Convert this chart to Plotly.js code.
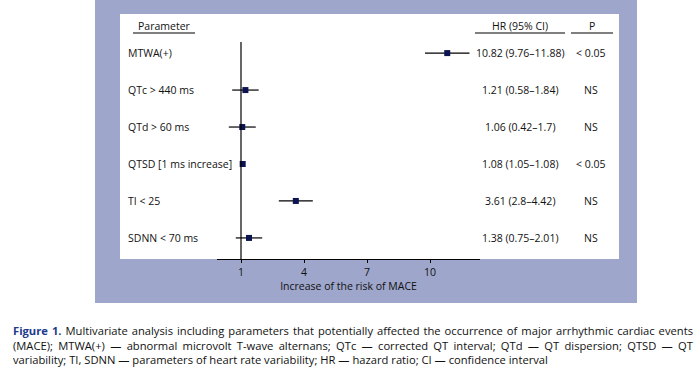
<!DOCTYPE html>
<html>
<head>
<meta charset="utf-8">
<script src="https://cdn.plot.ly/plotly-3.0.1.min.js"></script>
<style>html,body{margin:0;padding:0;background:#fff;}#chart{width:699px;height:376px;}</style>
</head>
<body>
<div id="chart"></div>
<script>
// ---- data ----
const parameters = ["MTWA(+)", "QTc > 440 ms", "QTd > 60 ms", "QTSD [1 ms increase]", "TI < 25", "SDNN < 70 ms"];
const hr = [10.82, 1.21, 1.06, 1.08, 3.61, 1.38];
const ciLow = [9.76, 0.58, 0.42, 1.05, 2.8, 0.75];
const ciHigh = [11.88, 1.84, 1.7, 1.08, 4.42, 2.01];
const hrLabels = ["10.82 (9.76–11.88)", "1.21 (0.58–1.84)", "1.06 (0.42–1.7)", "1.08 (1.05–1.08)", "3.61 (2.8–4.42)", "1.38 (0.75–2.01)"];
const pLabels = ["< 0.05", "NS", "NS", "< 0.05", "NS", "NS"];
const tickValues = [1, 4, 7, 10];
const referenceHR = 1;
const xTitle = "Increase of the risk of MACE";
const headers = ["Parameter", "HR (95% CI)", "P"];
const captionBold = "Figure 1.";
const captionLines = [
  " Multivariate analysis including parameters that potentially affected the occurrence of major arrhythmic cardiac events",
  "(MACE); MTWA(+) — abnormal microvolt T-wave alternans; QTc — corrected QT interval; QTd — QT dispersion; QTSD — QT",
  "variability; TI, SDNN — parameters of heart rate variability; HR — hazard ratio; CI — confidence interval"
];

// ---- layout geometry (pixels) ----
const W = 699, H = 376;
const L = 217, R = 480, T = 42, B = 259;
const px = x => (x - L) / (R - L);
const py = y => (B - y) / (B - T);
const FONT = "Open Sans, Noto Sans, sans-serif";
const CAPFONT = "Open Sans";
const CAPSIZE = 11.2;
const rows = parameters.map((_, i) => i + 1);

// text measurement for justified caption lines
const cv = document.createElement("canvas").getContext("2d");
function tw(s, weight) { cv.font = weight + " " + CAPSIZE + "px '" + CAPFONT + "'"; return cv.measureText(s).width; }
const capLeft = 12, capRight = 692;

const trace = {
  type: "scatter", mode: "markers",
  x: hr, y: rows,
  marker: {symbol: "square", size: 6, color: "#0b1450"},
  error_x: {
    type: "data", symmetric: false,
    array: hr.map((v, i) => ciHigh[i] - v),
    arrayminus: hr.map((v, i) => v - ciLow[i]),
    width: 0, thickness: 1.2, color: "#000"
  },
  hoverinfo: "skip", showlegend: false
};

const ann = [];
const tf = {family: FONT, size: 10.5, color: "#111"};
parameters.forEach((p, i) => {
  ann.push({xref: "paper", yref: "y", x: px(126), y: rows[i], text: p, showarrow: false, xanchor: "left", yanchor: "middle", font: tf});
  ann.push({xref: "paper", yref: "y", x: px(520), y: rows[i], text: hrLabels[i], showarrow: false, xanchor: "center", yanchor: "middle", font: tf});
  ann.push({xref: "paper", yref: "y", x: px(591), y: rows[i], text: pLabels[i], showarrow: false, xanchor: "center", yanchor: "middle", font: tf});
});
ann.push({xref: "paper", yref: "paper", x: px(164), y: py(26), text: headers[0], showarrow: false, xanchor: "center", yanchor: "middle", font: tf});
ann.push({xref: "paper", yref: "paper", x: px(520), y: py(26), text: headers[1], showarrow: false, xanchor: "center", yanchor: "middle", font: tf});
ann.push({xref: "paper", yref: "paper", x: px(592), y: py(26), text: headers[2], showarrow: false, xanchor: "center", yanchor: "middle", font: tf});

// caption: one annotation, first two lines justified via word-spacing
const capParts = captionLines.map((txt, i) => {
  let natural = tw(txt, "normal");
  let prefix = "";
  if (i === 0) { natural += tw(captionBold, "bold"); prefix = "<b><span style='color:#223a8c'>" + captionBold + "</span></b>"; }
  let html = prefix + txt;
  if (i < 2) {
    const spaces = ((i === 0 ? captionBold : "") + txt).split(" ").length - 1;
    const ws = Math.max(0, (capRight - capLeft - natural) / spaces);
    html = "<span style='word-spacing:" + ws.toFixed(2) + "px'>" + html + "</span>";
  }
  return html;
});
ann.push({xref: "paper", yref: "paper", x: px(capLeft - 1), y: py(344.5), text: capParts.join("<br>"), showarrow: false,
  xanchor: "left", yanchor: "middle", align: "left", font: {family: CAPFONT, size: CAPSIZE, color: "#111"}});

const shapes = [
  {type: "rect", xref: "paper", yref: "paper", x0: px(95), x1: px(637), y0: py(303), y1: py(0), fillcolor: "#9ea6cb", line: {width: 0}, layer: "below"},
  {type: "rect", xref: "paper", yref: "paper", x0: px(120), x1: px(619), y0: py(259), y1: py(14), fillcolor: "#ffffff", line: {width: 0}, layer: "below"},
  {type: "line", xref: "x", yref: "paper", x0: referenceHR, x1: referenceHR, y0: 0, y1: 1, line: {color: "#000", width: 1.2}},
  {type: "line", xref: "paper", yref: "paper", x0: px(133), x1: px(195), y0: py(33), y1: py(33), line: {color: "#000", width: 1}},
  {type: "line", xref: "paper", yref: "paper", x0: px(475), x1: px(565), y0: py(33), y1: py(33), line: {color: "#000", width: 1}},
  {type: "line", xref: "paper", yref: "paper", x0: px(571), x1: px(613), y0: py(33), y1: py(33), line: {color: "#000", width: 1}}
];

const layout = {
  width: W, height: H,
  margin: {l: L, r: W - R, t: T, b: H - B, pad: 0},
  paper_bgcolor: "#ffffff", plot_bgcolor: "rgba(0,0,0,0)",
  xaxis: {
    range: [-0.143, 12.38], tickvals: tickValues, ticktext: tickValues.map(String),
    showline: true, linecolor: "#000", linewidth: 1.2, ticks: "outside", ticklen: 3, tickcolor: "#000", tickwidth: 1,
    showgrid: false, zeroline: false, tickfont: {family: FONT, size: 10.5, color: "#111"},
    title: {text: xTitle, font: {family: FONT, size: 10.5, color: "#111"}, standoff: 4},
    fixedrange: true
  },
  yaxis: {range: [6.57, 0.70], visible: false, showgrid: false, zeroline: false, fixedrange: true},
  shapes: shapes, annotations: ann, showlegend: false
};

Plotly.newPlot("chart", [trace], layout, {displayModeBar: false, staticPlot: true});
</script>
</body>
</html>
